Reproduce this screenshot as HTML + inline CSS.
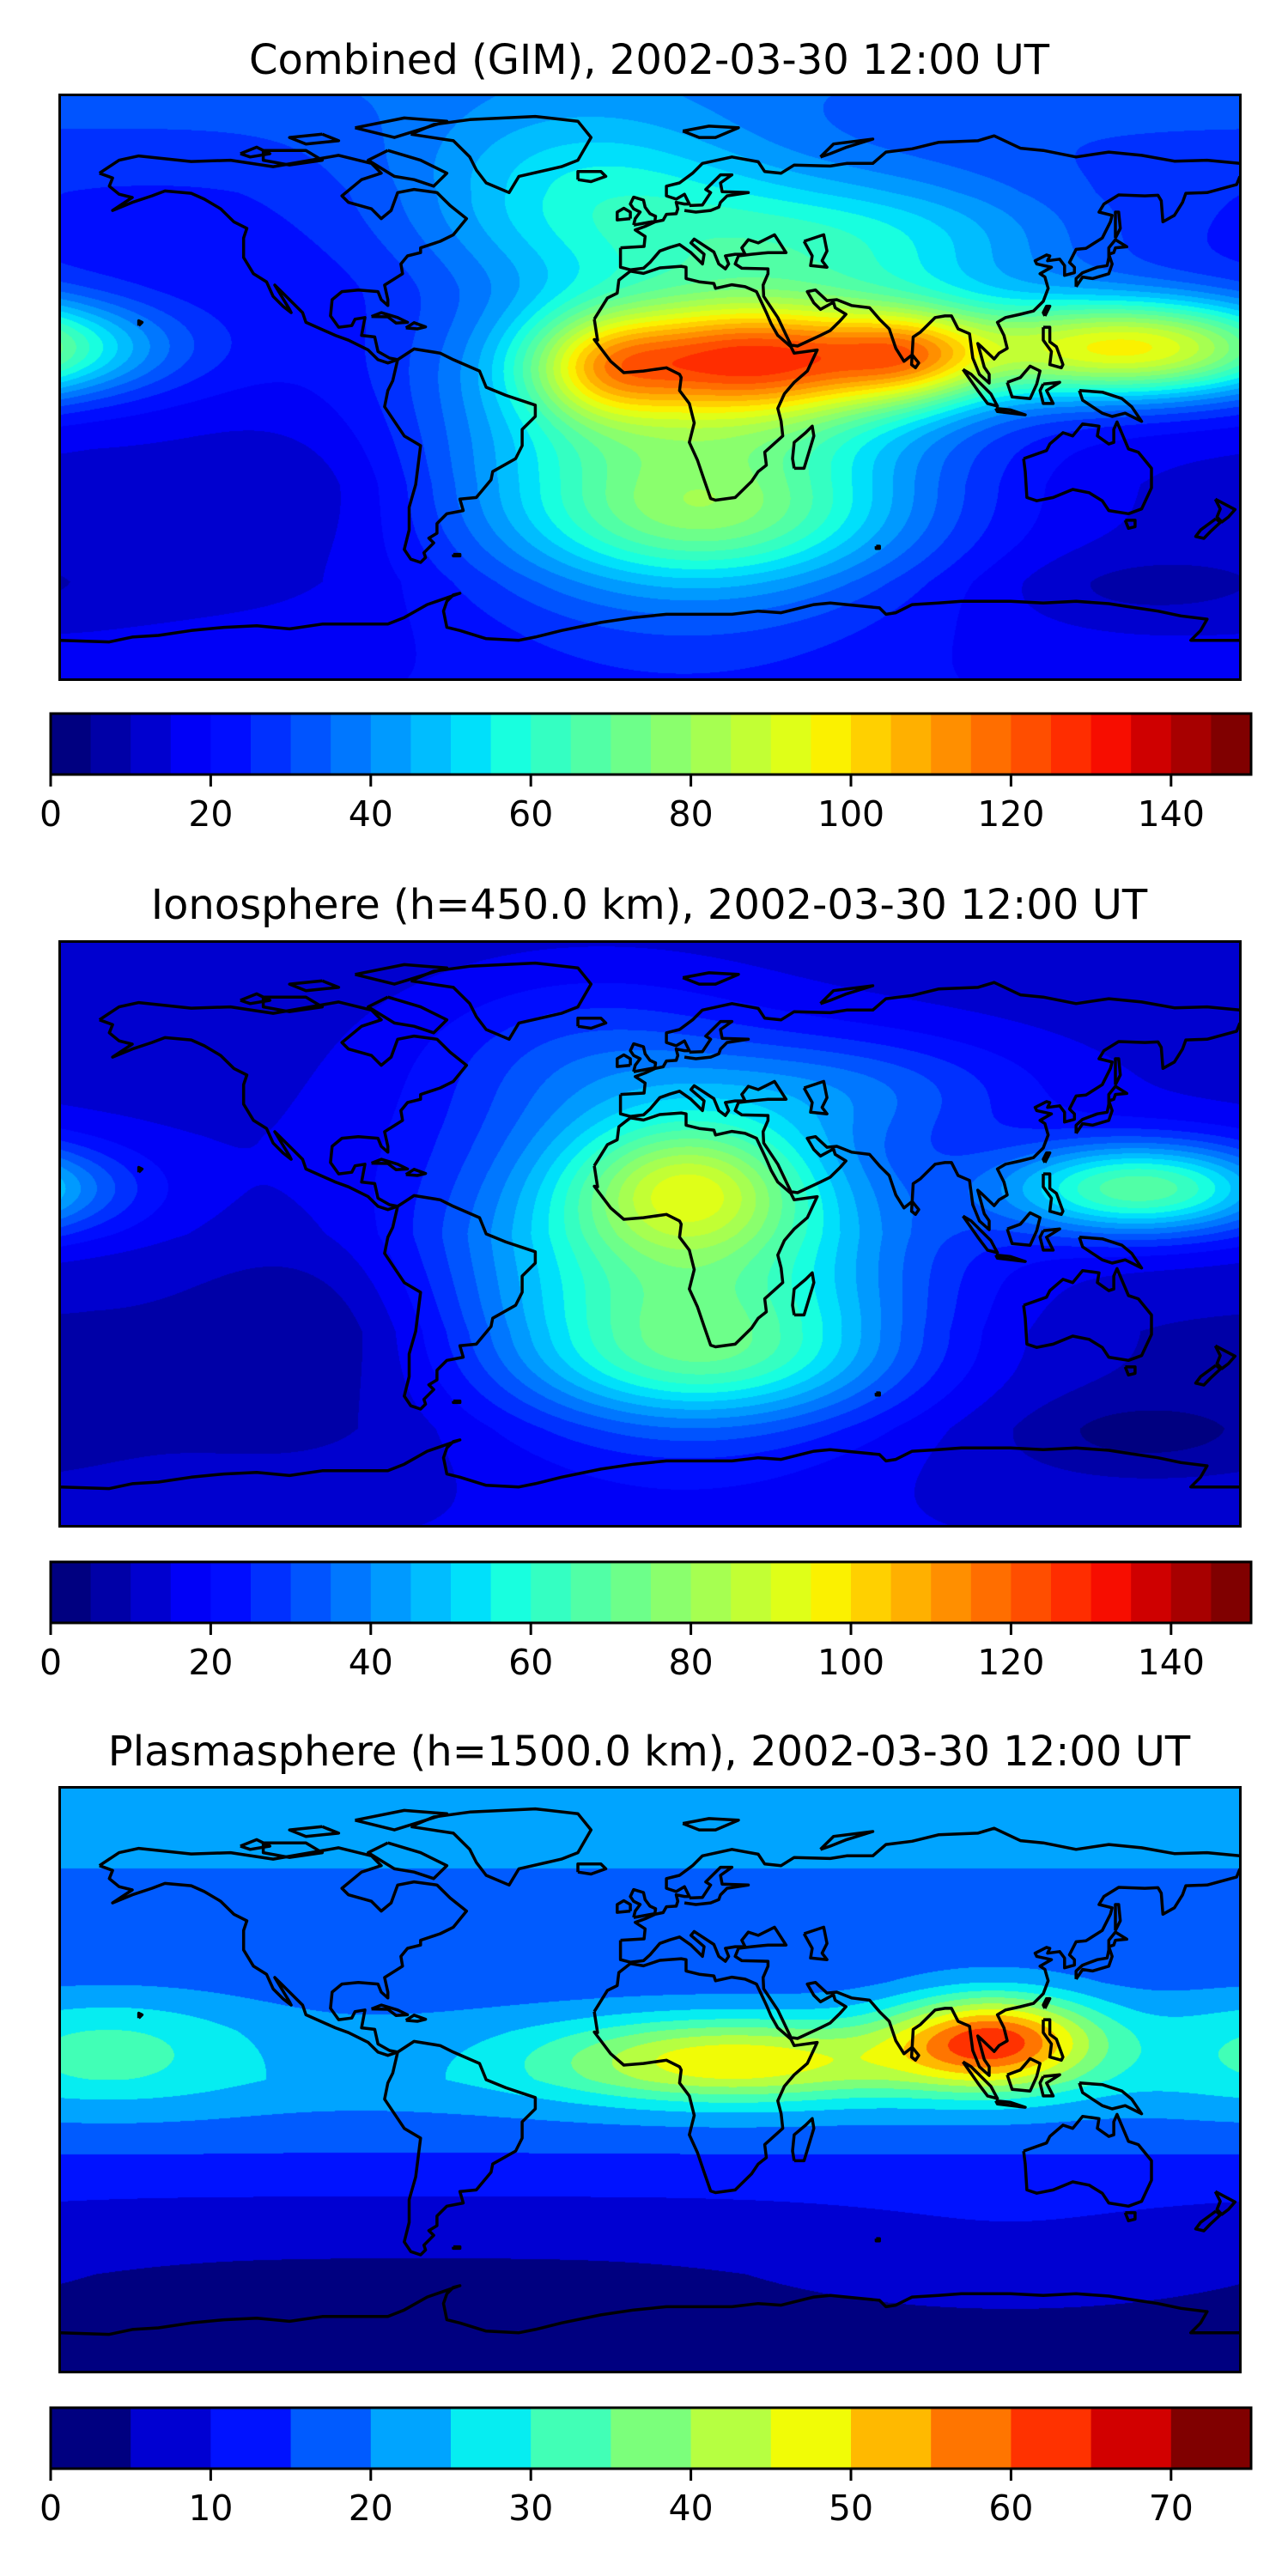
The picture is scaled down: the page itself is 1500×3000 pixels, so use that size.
<!DOCTYPE html>
<html><head><meta charset="utf-8"><title>TEC maps</title>
<style>
html,body{margin:0;padding:0;background:#fff;}
#page{position:relative;width:1500px;height:3000px;overflow:hidden;background:#fff;}
canvas{position:absolute;}
svg{position:absolute;left:0;top:0;}
</style></head>
<body>
<div id="page">
<canvas id="c0"></canvas>
<canvas id="c1"></canvas>
<canvas id="c2"></canvas>
<svg id="ov" width="1500" height="3000" xmlns="http://www.w3.org/2000/svg"></svg>
</div>
<script>
// ---------- data ----------
const latKnots = [90, 60, 30, 0, -30, -60, -90];
// map 1 : combined GIM
const gimBase = [33, 24, 19, 16, 13, 13, 18];
const gimBlobLon = [10, 35, -15, 80, 148, 20, -20, 60, -100, 150];
const gimBlobLat = [-20, 9, 6, 10, 12, -40, 60, 45, -30, -62];
const gimBlobSLon = [55, 40, 16, 16, 38, 40, 40, 50, 25, 30];
const gimBlobSLat = [35, 13, 12, 10, 11, 15, 20, 15, 18, 8];
const gimBlobAmp = [48, 78, 28, 30, 76, 25, 26, 30, -6, -6];
// map 2 : ionosphere
const ionBase = [12, 13, 14, 14, 9, 9, 14];
const ionBlobLon = [10, 12, 150, 20, -100, 150, -20, 60];
const ionBlobLat = [-10, 15, 14, -38, -25, -62, 55, 45];
const ionBlobSLon = [50, 25, 30, 40, 25, 25, 35, 40];
const ionBlobSLat = [35, 14, 10, 14, 22, 8, 18, 12];
const ionBlobAmp = [52, 38, 54, 25, -7, -7, 12, 15];
// map 3 : plasmasphere
const plsLatKnots = [90, 70, 50, 30, 15, 0, -15, -30, -45, -60, -75, -90];
const plsBase = [22, 21, 17, 17, 21, 23, 18, 12, 7, 4, 3, 3];
const plsBlobLon = [105, 25, -150, 180, 110];
const plsBlobLat = [12, 6, 10, 10, -55];
const plsBlobSLon = [22, 40, 25, 25, 50];
const plsBlobSLat = [10, 9, 12, 12, 12];
const plsBlobAmp = [40, 27, 6, 6, 4];
// colorbar ticks
const ticks150 = [0, 20, 40, 60, 80, 100, 120, 140];
const ticks75 = [0, 10, 20, 30, 40, 50, 60, 70];

// ---------- coastlines (lon,lat) ----------
const coasts = [
[[-168,66],[-162,70],[-156,71.3],[-140,69.6],[-128,70],[-115,68],[-95,71.5],[-85,69],[-82,66],[-88,64],[-94,59],[-92,57],[-85,55],[-82,52],[-79,54.5],[-77,60],[-72,61],[-65,60],[-61,56],[-56,52],[-60,47],[-64,45],[-70,43],[-70,41.5],[-74,40.5],[-76,38],[-75.5,35],[-81,31.5],[-80,27],[-80,25.2],[-82,27],[-83,29.5],[-89,30],[-94,29.5],[-97,27],[-97.5,22],[-95,18.5],[-91,19],[-90,21],[-87,21.5],[-88,16],[-84,15.5],[-83,11],[-79.5,9],[-77,8.5],[-80,7.5],[-83,8.5],[-86,11.5],[-92,14.5],[-96,16],[-105,20],[-106,23],[-112,29],[-114.5,31.5],[-113,29],[-110,24],[-109.5,23],[-112,25],[-115,28],[-117,32.5],[-121,35],[-124,40],[-124,46],[-123,49],[-127,51],[-131,55],[-136,58],[-140,59.8],[-148,60.5],[-152,59],[-158,57],[-164,54.5],[-158,58.5],[-162,59.5],[-165,62],[-164,64.5],[-168,66]],
[[-73,78],[-66,81],[-55,82.5],[-35,83.5],[-22,82],[-18,77],[-22,70],[-27,68],[-40,65],[-43,60],[-50,63],[-53,67],[-55,71],[-60,76],[-73,78]],
[[-80,73],[-70,70],[-62,66],[-66,62],[-72,64],[-78,65],[-86,70],[-80,73]],
[[-118,73],[-105,73],[-100,70],[-110,68.5],[-118,70],[-118,73]],
[[-90,80],[-75,83],[-62,82],[-78,77],[-90,80]],
[[-100,78],[-95,76],[-105,75],[-110,77],[-100,78]],
[[-125,72],[-120,74],[-116,72],[-122,71],[-125,72]],
[[-77,8.5],[-72,11.8],[-64,10.5],[-60,8.5],[-52,5],[-50,0],[-44,-2.5],[-35,-5.5],[-35,-9],[-39,-13],[-39,-18],[-41,-22],[-48,-26],[-48.5,-28.5],[-53,-34],[-58,-34.5],[-57,-38],[-62,-39],[-65,-42],[-65,-45],[-67.5,-46.5],[-66,-48],[-69,-51],[-68.5,-52.5],[-70,-54],[-73,-53],[-75,-50],[-73.5,-44],[-73.5,-37],[-71.5,-30],[-70,-18],[-75,-15],[-81,-6],[-80,-1],[-78.5,2],[-77,8.5]],
[[-17,21],[-16,14.5],[-17,14.7],[-12,8],[-8,4.5],[-2,5],[5,6],[9,4],[9.5,3],[9,-1],[12,-5],[13.5,-11],[12,-17],[14.5,-22.5],[16.5,-28.5],[18.5,-34.3],[20,-34.8],[26,-34],[31,-29],[33,-26],[35.5,-24],[35,-20],[40.5,-15],[40,-10.5],[39,-6.5],[41,-2],[44,1.5],[48,5],[51,11.5],[44,10.5],[43,12.5],[39,16],[37,19.5],[35.5,23],[32.5,29.5],[29,31],[25,31.6],[20,30.5],[19.5,32],[15,32.5],[11,33.5],[11,37],[9.5,37.3],[3,36.8],[-2,35.1],[-6,35.8],[-9.5,33],[-10,29],[-13,27.5],[-17,21]],
[[44,-25],[47,-25],[50,-15],[49.5,-12],[47.5,-14],[44,-17],[43.5,-22],[44,-25]],
[[-9,43],[-9,37],[-6,36.2],[-2,36.7],[0,38.5],[3,42],[6,43.1],[9,44],[12.5,41.5],[16,38],[16.5,41],[12.5,44.5],[13.5,45.7],[19.5,41.7],[21,38],[23,36.5],[24,38],[23,40.5],[26,41],[29,41],[28,43],[30,45.5],[33,44.5],[38,47],[41.5,41.5],[36,41.5],[31,41],[27,40.5],[26,38],[28,36.7],[36,36.5],[36,35],[34.5,31.5],[34.7,28],[39,21.5],[43,13],[45,12.7],[52,16],[55,17.5],[58,20.5],[59.8,22.5],[56.5,24.5],[56,26.2],[52,24],[50,26],[48,29.5],[50.5,30],[54,26.7],[57,27],[61.5,25.2],[67,24.5],[70,21],[73,18],[75,12],[77.5,8],[80,10],[80.3,15.5],[82.5,17],[87,21.5],[90,22],[92,22],[94,18],[97.5,16.5],[98.5,9],[100.5,4],[103.5,1.3],[103.5,4],[102,6.2],[100,13.5],[101,12.6],[105,8.7],[106.5,10.5],[109,12],[108,16],[106,20],[108.5,21.5],[113,22.5],[117,23.5],[120,26.5],[121.5,30.5],[120.5,34],[119,35],[122.5,37],[118,38],[117.5,39],[121,40.8],[122,40.5],[121.3,39],[125,39.5],[126.5,37.5],[126.5,34.5],[129.5,35.3],[129.5,37],[128,38.5],[130,42.5],[133,42.8],[138,46],[140.5,51],[141,53],[137,54],[138.5,56.5],[143,59.3],[151,59],[155,59.2],[156,57.5],[156.5,51],[160,53],[162.5,57],[163.5,59.8],[170,60],[179,62.5],[180,65]],
[[180,69],[170,70],[160,69.7],[150,71.5],[140,72.5],[130,71],[120,73],[113,73.7],[105,77.5],[100,76],[88,75.5],[80,73.5],[72,72.5],[68,69],[60,69],[55,68.2],[44,68.5],[40,66],[35,66.5],[33,69.5],[25,71],[16,69],[13,66],[9,63],[5,62],[5,59],[8,58],[10.5,59.5],[11,58.5],[12,56.5],[10.5,56.5],[8,57],[8.5,55],[8,53.5],[5,53.3],[4,51.5],[1.6,51],[-1.5,49.6],[-4.5,48.5],[-1.5,46.5],[-1.8,43.4],[-9,43]],
[[12,56],[16,56.2],[18.5,60],[17,61],[21.5,65.5],[25,65.5],[21.5,63],[22,60.3],[30,60],[23.5,59],[21.5,57],[21,55.5],[18.5,54.5],[14,54],[10.5,54.5]],
[[47,45],[53,47],[54,42],[52.5,39],[54,37],[49,37.5],[49.5,40.5],[47,45]],
[[-5,50],[1.5,51.2],[1.7,52.7],[0,53.5],[-1.5,55.5],[-2,57.7],[-5,58.6],[-6,56.5],[-5,55],[-3,54],[-4.5,52],[-5,50]],
[[-6,52],[-6,54],[-8,55.2],[-10,54],[-10,51.6],[-6,52]],
[[-22,64],[-22,66.5],[-15,66.5],[-13.5,65],[-18,63.4],[-22,64]],
[[10,79],[18,80.5],[27,80],[20,77],[15,77],[10,79]],
[[52,71],[56,75],[68,76.5],[60,74],[55,72],[52,71]],
[[130,31],[132,34],[135,33.5],[140,35],[141,38],[140,41],[141.5,41.5],[142,43],[145.5,43.3],[142,45.5],[140,43],[140,40],[139.5,37.5],[136.5,37],[132,35.3],[130,33.5],[130,31]],
[[142,46],[143.5,49],[143,54],[142,54],[142,49],[142,46]],
[[120.5,22],[122,25],[121,25],[120,23],[120.5,22]],
[[95.5,5.5],[98,4],[104,-2],[106,-5.8],[103,-5],[100,-1],[95.5,5.5]],
[[109,1.5],[113,3],[116,6.5],[119,5],[118,1],[116,-3.5],[110.5,-3],[109,1.5]],
[[105.5,-6.5],[110,-7],[114.5,-8.5],[106,-7.5],[105.5,-6.5]],
[[120,1],[125,1.5],[121,-1],[123,-5],[120,-5],[119,-1],[120,1]],
[[120,18.5],[122,18.5],[122,14],[124,12.5],[126,7],[125.5,6],[122,7],[122.5,11],[120,14.5],[120,18.5]],
[[131,-1],[138,-1.5],[144,-3.5],[147,-6],[150,-10.5],[145,-8],[141,-9],[138,-8],[132,-4],[131,-1]],
[[80,10],[82,7.5],[81,6],[79.8,7],[80,10]],
[[114,-22],[114.5,-26],[115,-34],[118,-35],[123,-34],[129,-31.5],[134,-32.5],[138,-35],[140,-38],[146,-39],[150,-37.5],[153,-31],[153,-25],[149,-20],[146,-19],[142.5,-10.7],[141.5,-13],[141.5,-17],[140,-17.5],[136.5,-15],[137,-12],[132,-11.3],[129,-15],[126,-14],[122,-17.5],[121,-19.5],[114,-22]],
[[145,-41],[148,-41],[148,-43],[146,-43.5],[145,-41]],
[[172.5,-34.5],[178.5,-37.7],[176.5,-40],[174.5,-41.5],[173,-40],[174,-37.5],[172.5,-34.5]],
[[172.7,-40.5],[174,-41.7],[171,-44.5],[169,-46.6],[166.5,-46],[168,-44],[172.7,-40.5]],
[[-85,21.8],[-82,23],[-77,21.5],[-74,20],[-77.5,19.8],[-80,21.7],[-85,21.8]],
[[-74.5,18.3],[-72,19.9],[-68.5,18.6],[-71,18],[-74.5,18.3]],
[[-156,19],[-155,20],[-156,20.5],[-156,19]],
[[-60,-51.5],[-58,-51.5],[-58,-52],[-60,-52],[-60,-51.5]],
[[69,-49],[70,-49],[70,-49.7],[69,-49.7],[69,-49]],
[[-180,-78],[-165,-78.5],[-158,-77],[-150,-76.5],[-140,-75],[-130,-74],[-120,-73.5],[-110,-74.5],[-100,-73],[-90,-73],[-80,-73],[-75,-71],[-68,-67],[-58,-63.5],[-60,-64],[-62,-66],[-63,-69],[-62,-74],[-58,-75],[-50,-77.5],[-40,-78],[-35,-77],[-27,-75],[-15,-72.5],[-5,-71],[5,-70],[15,-70],[25,-70],[33,-69],[40,-69.5],[50,-67],[55,-66.5],[65,-67.5],[70,-68],[72,-70],[75,-69.5],[80,-67],[88,-66.5],[95,-66],[100,-66],[110,-66],[120,-66.5],[130,-66],[140,-66.7],[145,-67.5],[155,-69],[162,-70.5],[170,-71.5],[168,-75],[165,-78],[180,-78]]
];

// ---------- layout ----------
const MX = 70, MW = 1374, MH = 680;
const maps = [
  {id:'c0', name:'gim', title:'Combined (GIM), 2002-03-30 12:00 UT', top:111, titleY:70, cbTop:831, vmax:150, n:30, ticks:ticks150,
   base:gimBase, knots:latKnots, bl:gimBlobLon, bt:gimBlobLat, bsl:gimBlobSLon, bst:gimBlobSLat, ba:gimBlobAmp},
  {id:'c1', name:'ionosphere', title:'Ionosphere  (h=450.0 km), 2002-03-30 12:00 UT', top:1097, titleY:1054, cbTop:1819, vmax:150, n:30, ticks:ticks150,
   base:ionBase, knots:latKnots, bl:ionBlobLon, bt:ionBlobLat, bsl:ionBlobSLon, bst:ionBlobSLat, ba:ionBlobAmp},
  {id:'c2', name:'plasmasphere', title:'Plasmasphere (h=1500.0 km), 2002-03-30 12:00 UT', top:2082, titleY:2040, cbTop:2804, vmax:75, n:15, ticks:ticks75,
   base:plsBase, knots:plsLatKnots, bl:plsBlobLon, bt:plsBlobLat, bsl:plsBlobSLon, bst:plsBlobSLat, ba:plsBlobAmp}
];
const CBX = 59, CBW = 1398, CBH = 71;

function seg(pts, t){
  for(let i=0;i<pts.length-1;i++){
    if(t<=pts[i+1][0]){const a=pts[i],b=pts[i+1];return a[1]+(b[1]-a[1])*(t-a[0])/(b[0]-a[0]);}
  }
  return pts[pts.length-1][1];
}
const RJ=[[0,0],[0.35,0],[0.66,1],[0.89,1],[1,0.5]];
const GJ=[[0,0],[0.125,0],[0.375,1],[0.64,1],[0.91,0],[1,0]];
const BJ=[[0,0.5],[0.11,1],[0.34,1],[0.65,0],[1,0]];
function jet(t){return [Math.round(255*seg(RJ,t)),Math.round(255*seg(GJ,t)),Math.round(255*seg(BJ,t))];}
function interpLat(knots, vals, lat){
  for(let i=0;i<knots.length-1;i++){
    if(lat<=knots[i] && lat>=knots[i+1]){const f=(lat-knots[i])/(knots[i+1]-knots[i]);return vals[i]+(vals[i+1]-vals[i])*f;}
  }
  return vals[vals.length-1];
}
const NS='http://www.w3.org/2000/svg';
const ov=document.getElementById('ov');
function mk(tag, attrs, parent){const e=document.createElementNS(NS,tag);for(const k in attrs)e.setAttribute(k,attrs[k]);(parent||ov).appendChild(e);return e;}

const xOf = lon => MX + (lon+180)/360*MW;
const yOf = (lat, top) => top + (90-lat)/180*MH;

maps.forEach((m, mi)=>{
  const cv=document.getElementById(m.id);
  cv.width=MW; cv.height=MH; cv.style.left=MX+'px'; cv.style.top=m.top+'px';
  const ctx=cv.getContext('2d');
  const img=ctx.createImageData(MW,MH);
  const step=m.vmax/m.n;
  const pal=[]; for(let i=0;i<m.n;i++) pal.push(jet(i/(m.n-1)));
  const nb=m.bl.length;
  const ex=[], ey=[];
  for(let b=0;b<nb;b++){
    const ax=new Float32Array(MW), ay=new Float32Array(MH);
    for(let px=0;px<MW;px++){const lon=-180+(px+0.5)/MW*360;let d=Math.abs(lon-m.bl[b]);if(d>180)d=360-d;ax[px]=Math.exp(-d*d/(2*m.bsl[b]*m.bsl[b]));}
    for(let py=0;py<MH;py++){const lat=90-(py+0.5)/MH*180;const d=lat-m.bt[b];ay[py]=Math.exp(-d*d/(2*m.bst[b]*m.bst[b]));}
    ex.push(ax); ey.push(ay);
  }
  for(let py=0;py<MH;py++){
    const lat=90-(py+0.5)/MH*180;
    const base=interpLat(m.knots,m.base,lat);
    for(let px=0;px<MW;px++){
      let v=base;
      for(let b=0;b<nb;b++) v+=m.ba[b]*ex[b][px]*ey[b][py];
      let k=Math.floor(v/step); if(k<0)k=0; if(k>m.n-1)k=m.n-1;
      const c=pal[k], o=(py*MW+px)*4;
      img.data[o]=c[0];img.data[o+1]=c[1];img.data[o+2]=c[2];img.data[o+3]=255;
    }
  }
  ctx.putImageData(img,0,0);

  const t=mk('text',{x:756,y:m.titleY,'text-anchor':'middle','dominant-baseline':'central','font-family':'DejaVu Sans, Liberation Sans, sans-serif','font-size':'48'});
  t.textContent=m.title;
  
  

  const clipId='clip'+mi;
  const cp=mk('clipPath',{id:clipId}); mk('rect',{x:MX,y:m.top,width:MW,height:MH},cp);
  const g=mk('g',{'clip-path':'url(#'+clipId+')',fill:'none',stroke:'#000','stroke-width':'3.5','stroke-linejoin':'round'});
  
  
  coasts.forEach(poly=>{
    const d=poly.map((p,i)=>(i?'L':'M')+xOf(p[0]).toFixed(1)+' '+yOf(p[1],m.top).toFixed(1)).join('');
    const p=mk('path',{d:d},g);
    
    
  });
  const fr=mk('rect',{x:MX-0.5,y:m.top-0.5,width:MW+1,height:MH+1,fill:'none',stroke:'#000','stroke-width':'3'});
  
  

  const cb=mk('g',{});
  
  
  const sw=CBW/m.n;
  for(let i=0;i<m.n;i++){
    const c=pal[i];
    const r=mk('rect',{x:(CBX+i*sw).toFixed(2),y:m.cbTop,width:(sw+0.6).toFixed(2),height:CBH,fill:'rgb('+c[0]+','+c[1]+','+c[2]+')'},cb);
    
    
  }
  mk('rect',{x:CBX,y:m.cbTop,width:CBW,height:CBH,fill:'none',stroke:'#000','stroke-width':'3'},cb);
  m.ticks.forEach(tv=>{
    const x=CBX+tv/m.vmax*CBW;
    const tk=mk('line',{x1:x,x2:x,y1:m.cbTop+CBH,y2:m.cbTop+CBH+14,stroke:'#000','stroke-width':'3'},cb);
    
    
    const lb=mk('text',{x:x,y:m.cbTop+CBH+46,'text-anchor':'middle','dominant-baseline':'central','font-family':'DejaVu Sans, Liberation Sans, sans-serif','font-size':'41'},cb);
    lb.textContent=String(tv);
    
    
  });
});
</script>
</body></html>
